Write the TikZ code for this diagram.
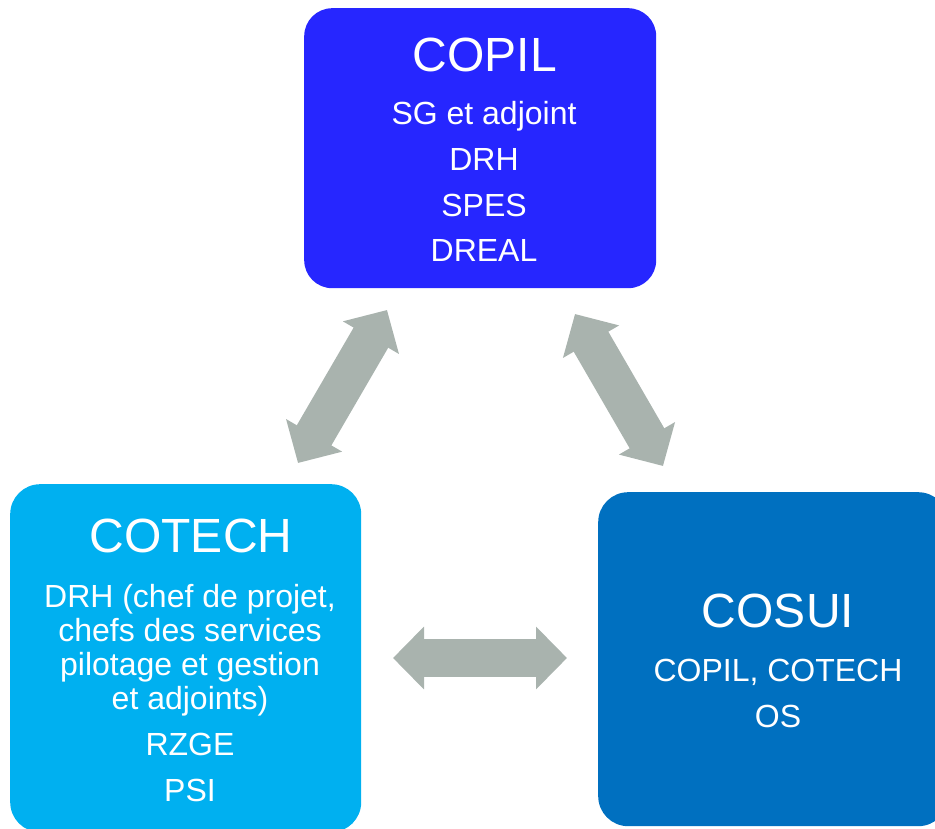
\documentclass[tikz,border=0pt]{standalone}
\usepackage{fontspec}
\setmainfont{Liberation Sans}
\usetikzlibrary{arrows.meta}
\definecolor{copilblue}{HTML}{2626FF}
\definecolor{cotechblue}{HTML}{00B0F0}
\definecolor{cosuiblue}{HTML}{0070C0}
\definecolor{linkgray}{HTML}{A9B3AE}
\begin{document}
\begin{tikzpicture}[x=1pt,y=-1pt,
  box/.style={rounded corners=28pt, inner sep=0pt, anchor=north west, draw=none},
  titletext/.style={font=\fontsize{48}{52}\selectfont, text=white, anchor=base, inner sep=0pt},
  bodytext/.style={font=\fontsize{32}{46}\selectfont, text=white, align=center, anchor=base, inner sep=0pt},
  link/.style={draw=linkgray, line width=38pt, {Triangle[width=61pt,length=31pt]}-{Triangle[width=61pt,length=31pt]}},
  diaglink/.style={link, line width=40pt, {Triangle[width=63pt,length=32pt]}-{Triangle[width=63pt,length=32pt]}}]
\useasboundingbox (0,0) rectangle (935,829);
% boxes
\node[box, fill=copilblue, minimum width=352pt, minimum height=280pt] (copil) at (304,8) {};
\node[box, fill=cotechblue, minimum width=351pt, minimum height=348pt, rounded corners=30pt] (cotech) at (10,484) {};
\node[box, fill=cosuiblue, minimum width=350pt, minimum height=334pt, rounded corners=30pt] (cosui) at (598,492) {};
% texts (anchor=base is the baseline of the last line)
\node[titletext] (copilT) at (485,72) {COPIL};
\node[bodytext] (copilB) at (484,262) {SG et adjoint\\DRH\\SPES\\DREAL};
\node[titletext] (cotechT) at (191,552) {COTECH};
\node[bodytext, font=\fontsize{32}{34}\selectfont] (cotechB) at (190,801) {DRH (chef de projet,\\chefs des services\\pilotage et gestion\\et adjoints)\\[12pt]RZGE\\[12pt]PSI};
\node[titletext] (cosuiT) at (778,627) {COSUI};
\node[bodytext] (cosuiB) at (778,727) {COPIL, COTECH\\OS};
% connectors
\coordinate (l1) at (298,463);
\coordinate (l2) at (387,310);
\coordinate (r1) at (575,314);
\coordinate (r2) at (663,466);
\coordinate (h1) at (393,658);
\coordinate (h2) at (567,658);
\draw[diaglink] (l1) -- (l2);
\draw[diaglink] (r1) -- (r2);
\draw[link] (h1) -- (h2);
\end{tikzpicture}
\end{document}
